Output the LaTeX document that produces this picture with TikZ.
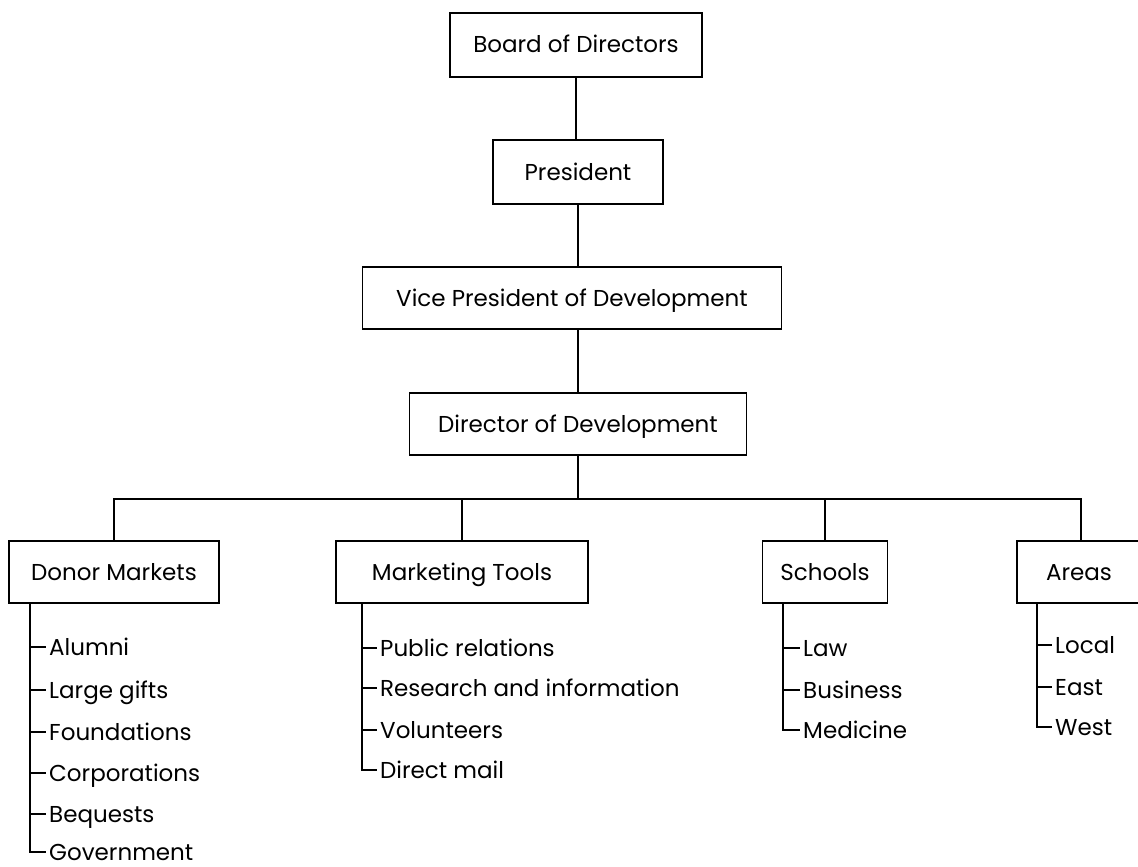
\documentclass[tikz,border=0pt]{standalone}
\usepackage{fontspec}
\setmainfont{Poppins}
\usepackage{tikz}
\usetikzlibrary{positioning, calc}

\begin{document}
\begin{tikzpicture}[
    x=1pt, y=-1pt,
    font=\fontsize{23}{27}\selectfont,
    box/.style={draw, line width=1.3pt, minimum height=62pt, align=center, text height=16pt, text depth=0pt},
    link/.style={line width=1.6pt},
    item/.style={anchor=west, inner xsep=3pt, inner ysep=1pt, text height=16pt, text depth=0pt}
]
    \useasboundingbox (0,0) rectangle (1138,867);

    % top of the chart
    \node[box, minimum width=252pt, minimum height=64pt] (board) at (576,45) {Board of Directors};
    \node[box, minimum width=170pt, minimum height=64pt] (pres) at (578,172) {President};
    \node[box, minimum width=419pt] (vicepres) at (572,298) {Vice President of Development};
    \node[box, minimum width=337pt] (director) at (578,424) {Director of Development};

    \draw[link] (board) -- (board |- pres.north);
    \draw[link] (pres) -- (pres |- vicepres.north);
    \draw[link] (vicepres.south -| director) -- (director);

    % second level
    \node[box, minimum width=210pt] (donor) at (114,572) {Donor Markets};
    \node[box, minimum width=252pt] (tools) at (462,572) {Marketing Tools};
    \node[box, minimum width=125pt] (schools) at (825,572) {Schools};
    \node[box, minimum width=128pt, text width=110pt, align=left] (areas) at (1081,572) {\hspace{20pt}Areas};

    \coordinate (bus) at (578,499);
    \draw[link] (director) -- (bus);
    \draw[link] (donor.north) -- (donor.north |- bus) -- (areas.north |- bus) -- (areas.north);
    \draw[link] (tools.north) -- (tools.north |- bus);
    \draw[link] (schools.north) -- (schools.north |- bus);

    % lists
    \node[item] (donor1) at (46,647) {Alumni};
    \node[item] (donor2) at (46,690) {Large gifts};
    \node[item] (donor3) at (46,732) {Foundations};
    \node[item] (donor4) at (46,773) {Corporations};
    \node[item] (donor5) at (46,814) {Bequests};
    \node[item] (donor6) at (46,852) {Government};

    \node[item] (tools1) at (377,648) {Public relations};
    \node[item] (tools2) at (377,688) {Research and information};
    \node[item] (tools3) at (377,730) {Volunteers};
    \node[item] (tools4) at (377,770) {Direct mail};

    \node[item] (schools1) at (800,648) {Law};
    \node[item] (schools2) at (800,690) {Business};
    \node[item] (schools3) at (800,730) {Medicine};

    \node[item] (areas1) at (1052,645) {Local};
    \node[item] (areas2) at (1052,687) {East};
    \node[item] (areas3) at (1052,727) {West};

    \coordinate (donortop) at (30,603);
    \coordinate (toolstop) at (362,603);
    \coordinate (schoolstop) at (783,603);
    \coordinate (areastop) at (1037,603);

    \draw[link] (donortop) |- (donor6.west);
    \foreach \i in {1,...,5}
        \draw[link] (donortop |- donor\i.west) -- (donor\i.west);
    \draw[link] (toolstop) |- (tools4.west);
    \foreach \i in {1,2,3}
        \draw[link] (toolstop |- tools\i.west) -- (tools\i.west);
    \draw[link] (schoolstop) |- (schools3.west);
    \foreach \i in {1,2}
        \draw[link] (schoolstop |- schools\i.west) -- (schools\i.west);
    \draw[link] (areastop) |- (areas3.west);
    \foreach \i in {1,2}
        \draw[link] (areastop |- areas\i.west) -- (areas\i.west);
\end{tikzpicture}
\end{document}
